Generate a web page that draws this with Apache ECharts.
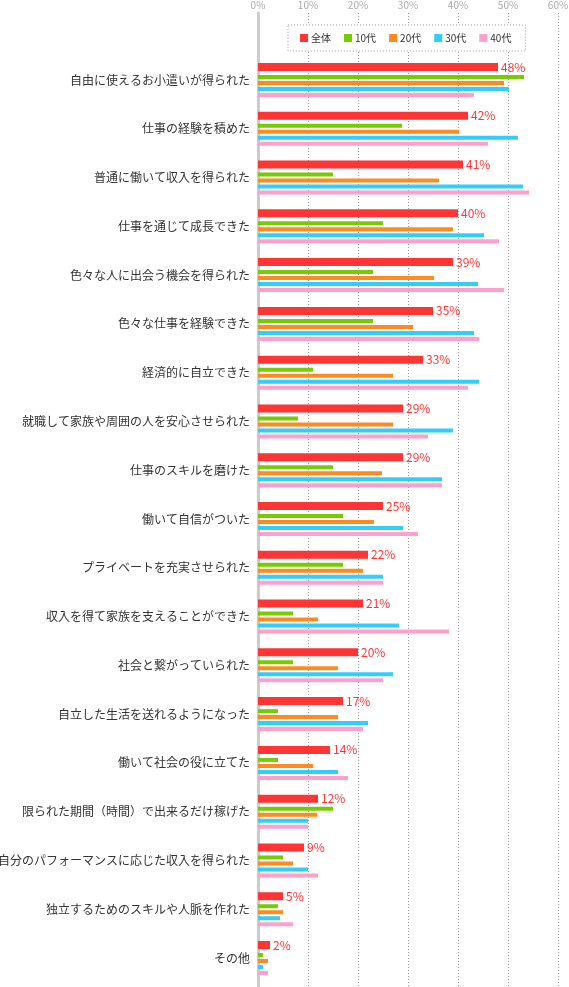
<!DOCTYPE html>
<html>
<head>
<meta charset="utf-8">
<script src="https://cdn.jsdelivr.net/npm/echarts@6/dist/echarts.min.js"></script>
<style>
html, body { margin: 0; padding: 0; background: #fff; }
#chart { width: 569px; height: 987px; }
</style>
</head>
<body>
<div id="chart"></div>
<script>
var categories = [
	'自由に使えるお小遣いが得られた',
	'仕事の経験を積めた',
	'普通に働いて収入を得られた',
	'仕事を通じて成長できた',
	'色々な人に出会う機会を得られた',
	'色々な仕事を経験できた',
	'経済的に自立できた',
	'就職して家族や周囲の人を安心させられた',
	'仕事のスキルを磨けた',
	'働いて自信がついた',
	'プライベートを充実させられた',
	'収入を得て家族を支えることができた',
	'社会と繋がっていられた',
	'自立した生活を送れるようになった',
	'働いて社会の役に立てた',
	'限られた期間（時間）で出来るだけ稼げた',
	'自分のパフォーマンスに応じた収入を得られた',
	'独立するためのスキルや人脈を作れた',
	'その他'
];
var seriesNames = ['全体', '10代', '20代', '30代', '40代'];
// 値(%)
var zentai   = [48, 42, 41, 40, 39, 35, 33, 29, 29, 25, 22, 21, 20, 17, 14.4, 12, 9.2, 5, 2.4];
var teens    = [53.2, 28.8, 15, 25, 23, 23, 11, 8, 15, 17, 17, 7, 7, 4, 4, 15, 5, 4, 1];
var twenties = [49.2, 40.2, 36.2, 39, 35.2, 31, 27, 27, 24.8, 23.2, 21, 12, 16, 16, 11, 11.8, 7, 5, 2];
var thirties = [50.2, 52, 53, 45.2, 44, 43.2, 44.2, 39, 36.8, 29, 25, 28.2, 27, 22, 16, 10, 10, 4.4, 1];
var forties  = [43.2, 46, 54.2, 48.2, 49.2, 44.2, 42, 34, 36.8, 32, 25, 38.2, 25, 21, 18, 10, 12, 7, 2];
var xTicks = [0, 10, 20, 30, 40, 50, 60];

var colors = ['#ff3434', '#77cc00', '#ff8a22', '#33ccff', '#ffa0cc'];
var allData = [zentai, teens, twenties, thirties, forties];
var FONT = '"Noto Sans CJK JP", sans-serif';

var myChart = echarts.init(document.getElementById('chart'));

var series = allData.map(function (d, i) {
	var s = {
		name: seriesNames[i],
		type: 'bar',
		xAxisIndex: 1,
		yAxisIndex: 1,
		data: d,
		barWidth: i === 0 ? 8 : 4,
		barGap: '50%',
		itemStyle: { color: colors[i] },
		emphasis: { disabled: true },
		animation: false
	};
	if (i === 0) {
		s.label = {
			show: true,
			position: 'right',
			distance: 3,
			color: '#ff3434',
			fontSize: 12,
			fontFamily: FONT,
			formatter: function (p) { return Math.round(p.value) + '%'; }
		};
	}
	return s;
});

var option = {
	animation: false,
	textStyle: { fontFamily: FONT },
	legend: {
		data: seriesNames,
		left: 288,
		top: 25,
		padding: [8, 14, 8, 12],
		itemWidth: 8,
		itemHeight: 8,
		itemGap: 13,
		icon: 'rect',
		backgroundColor: '#fff',
		borderColor: '#999',
		borderWidth: 1,
		borderType: [1, 2],
		textStyle: { fontSize: 10, color: '#333', fontFamily: FONT, padding: [0, 0, 0, -2] }
	},
	grid: [
		{ left: 258, right: 11, top: 13, bottom: 0, outerBoundsMode: 'none' },
		{ left: 258, right: 11, top: 55.6, bottom: 4.6, outerBoundsMode: 'none' }
	],
	xAxis: [
		{
			gridIndex: 0,
			type: 'value',
			position: 'top',
			min: xTicks[0],
			max: xTicks[xTicks.length - 1],
			interval: 10,
			axisLine: { show: false },
			axisTick: { show: false },
			axisLabel: { color: '#aaa', fontSize: 10, margin: 3, formatter: '{value}%' },
			splitLine: { show: true, showMinLine: false, lineStyle: { color: '#999', type: [1, 2] } }
		},
		{
			gridIndex: 1,
			type: 'value',
			min: 0,
			max: 60,
			show: false
		}
	],
	yAxis: [
		{
			gridIndex: 0,
			type: 'value',
			offset: 1.5,
			axisLine: { show: true, lineStyle: { color: '#cccccc', width: 3 } },
			axisTick: { show: false },
			axisLabel: { show: false },
			splitLine: { show: false }
		},
		{
			gridIndex: 1,
			type: 'category',
			inverse: true,
			data: categories,
			axisLine: { show: false },
			axisTick: { show: false },
			axisLabel: { color: '#333', fontSize: 12, margin: 8 }
		}
	],
	series: series
};
myChart.setOption(option);
</script>
</body>
</html>
